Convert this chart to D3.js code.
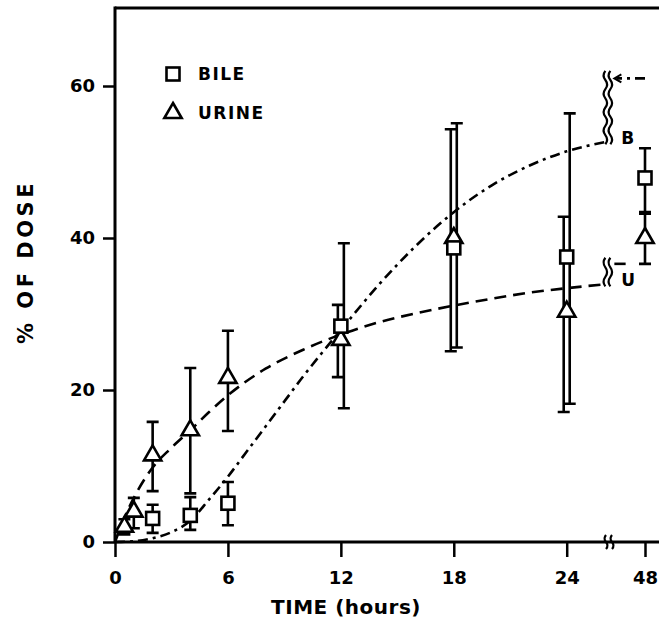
<!DOCTYPE html>
<html>
<head>
<meta charset="utf-8">
<script src="https://cdn.jsdelivr.net/npm/d3@7"></script>
<style>
  body { margin: 0; background: #fff; }
  svg { display: block; }
  text { font-family: "DejaVu Sans", sans-serif; font-weight: bold; fill: #000; }
</style>
</head>
<body>
<svg width="659" height="625"></svg>
<script>
const width = 659;
const height = 625;

// measured means and error bars, % of dose
const bile_time = [2, 4, 6, 12, 18, 24, 48];
const bile_mean = [3.1, 3.5, 5.1, 28.4, 38.7, 37.5, 47.9];
const bile_low = [1.2, 1.6, 2.2, 17.6, 25.6, 18.2, 43.4];
const bile_high = [4.9, 5.9, 7.9, 39.3, 55.1, 56.4, 51.8];

const urine_time = [0.5, 1, 2, 4, 6, 12, 18, 24, 48];
const urine_mean = [2.0, 4.0, 11.4, 14.7, 21.6, 26.6, 40.0, 30.3, 40.0];
const urine_low = [1.0, 1.8, 6.7, 6.4, 14.6, 21.7, 25.1, 17.1, 36.6];
const urine_high = [3.0, 5.8, 15.8, 22.9, 27.8, 31.2, 54.3, 42.8, 43.2];

// fitted curves
const bile_fit_time = [0, 1, 2, 3, 4, 5, 6, 7, 8, 9, 10, 11, 12, 14, 16, 18, 20, 22, 24, 26];
const bile_fit_value = [0, 0.1, 0.5, 1.3, 2.8, 5.6, 8.6, 11.9, 15.2, 18.5, 21.8, 24.9, 27.9, 33.8, 39.0, 43.4, 46.9, 49.5, 51.4, 52.6];
const urine_fit_time = [0, 0.5, 1, 2, 3, 4, 5, 6, 8, 10, 12, 14, 16, 18, 20, 22, 24, 26];
const urine_fit_value = [0, 3.2, 5.8, 9.8, 12.4, 14.7, 17.1, 19.3, 22.8, 25.3, 27.3, 28.9, 30.1, 31.1, 32.0, 32.8, 33.4, 33.9];

// plateau values shown after the axis break
const bile_tail = 61;
const urine_tail = 36.6;
const urine_tail_end = 36;

const x_ticks = [0, 6, 12, 18, 24, 48];
const y_ticks = [0, 20, 40, 60];
const break_hour = 26.3;

const margin = { top: 8, left: 115, bottom: 542 };

const x = d3.scaleLinear([0, break_hour, 48], [margin.left, 610, 645]);
const y = d3.scaleLinear([0, 60], [margin.bottom, 86]);

const svg = d3.select("svg");
const ink = "#000";

const zip = (t, m, lo, hi) => t.map((d, i) => ({ t: d, v: m[i], lo: lo[i], hi: hi[i] }));
const bile = zip(bile_time, bile_mean, bile_low, bile_high);
const urine = zip(urine_time, urine_mean, urine_low, urine_high);

// side-step error bars that overlap the other series at the same time
const overlaps = (a, list) => list.some(b => b.t === a.t && b.lo < a.hi && a.lo < b.hi);
bile.forEach(d => d.dx = overlaps(d, urine) ? 3 : 0);
urine.forEach(d => d.dx = overlaps(d, bile) ? -3 : 0);

const wavy = (x0, y0, y1, amp = 3.5) => {
  const n = Math.max(2, Math.round((y1 - y0) / 9));
  const h = (y1 - y0) / n;
  let p = `M${x0},${y0}`;
  for (let i = 0; i < n; i++) p += ` q${i % 2 ? amp : -amp},${h / 2} 0,${h}`;
  return p;
};

// frame
svg.append("line")
  .attr("x1", margin.left).attr("x2", width)
  .attr("y1", margin.top).attr("y2", margin.top)
  .attr("stroke", ink).attr("stroke-width", 3);
svg.append("line")
  .attr("x1", margin.left).attr("x2", margin.left)
  .attr("y1", margin.top - 1.5).attr("y2", margin.bottom)
  .attr("stroke", ink).attr("stroke-width", 3);
svg.append("line")
  .attr("x1", margin.left).attr("x2", width)
  .attr("y1", margin.bottom).attr("y2", margin.bottom)
  .attr("stroke", ink).attr("stroke-width", 3);

// axes
const x_axis = svg.append("g")
  .attr("transform", `translate(0,${margin.bottom})`)
  .call(d3.axisBottom(x).tickValues(x_ticks).tickSize(15).tickPadding(14).tickSizeOuter(0));
x_axis.select(".domain").remove();
x_axis.selectAll("line").attr("stroke", ink).attr("stroke-width", 2.5);
x_axis.selectAll("text").attr("font-size", 18).attr("font-family", null).attr("fill", null);

const y_axis = svg.append("g")
  .attr("transform", `translate(${margin.left},0)`)
  .call(d3.axisLeft(y).tickValues(y_ticks).tickSize(12).tickPadding(8).tickSizeOuter(0));
y_axis.select(".domain").remove();
y_axis.selectAll("line").attr("stroke", ink).attr("stroke-width", 2.5);
y_axis.selectAll("text").attr("font-size", 18).attr("font-family", null).attr("fill", null);

// x axis break mark
const xb = x(break_hour);
[xb - 4, xb + 2].forEach(xx => {
  svg.append("path").attr("d", wavy(xx, margin.bottom - 7, margin.bottom + 7, 3))
    .attr("fill", "none").attr("stroke", ink).attr("stroke-width", 2.2);
});

svg.append("text")
  .attr("x", 346).attr("y", 614)
  .attr("text-anchor", "middle")
  .attr("font-size", 20).attr("letter-spacing", 0.5)
  .text("TIME (hours)");
svg.append("text")
  .attr("transform", `translate(33,262) rotate(-90)`)
  .attr("text-anchor", "middle")
  .attr("font-size", 21).attr("letter-spacing", 3.5)
  .text("% OF DOSE");

// fitted curves
const line = d3.line().x(d => x(d[0])).y(d => y(d[1])).curve(d3.curveMonotoneX);
const bile_dash = "10,5,3,5";
const urine_dash = "12,7";

svg.append("path")
  .attr("d", line(d3.zip(bile_fit_time, bile_fit_value)))
  .attr("fill", "none").attr("stroke", ink).attr("stroke-width", 2.6)
  .attr("stroke-dasharray", bile_dash);
svg.append("path")
  .attr("d", line(d3.zip(urine_fit_time, urine_fit_value)))
  .attr("fill", "none").attr("stroke", ink).attr("stroke-width", 2.6)
  .attr("stroke-dasharray", urine_dash);

// curve breaks
const curve_end_x = x(bile_fit_time[bile_fit_time.length - 1]);
const breaks = [
  { lo: bile_fit_value[bile_fit_value.length - 1], hi: bile_tail + 1, label: "B" },
  { lo: urine_fit_value[urine_fit_value.length - 1], hi: urine_tail + 0.8, label: "U" }
];
breaks.forEach(b => {
  [curve_end_x + 1, curve_end_x + 6].forEach(xx => {
    svg.append("path").attr("d", wavy(xx, y(b.hi), y(b.lo) + 2))
      .attr("fill", "none").attr("stroke", ink).attr("stroke-width", 2.2);
  });
  svg.append("text")
    .attr("x", curve_end_x + 17).attr("y", y(b.lo) + 2)
    .attr("font-size", 17)
    .text(b.label);
});
// bile plateau after the break
svg.append("path")
  .attr("d", `M${x(48)},${y(bile_tail)} L${curve_end_x + 12},${y(bile_tail)}`)
  .attr("fill", "none").attr("stroke", ink).attr("stroke-width", 2.6)
  .attr("stroke-dasharray", bile_dash);
svg.append("path")
  .attr("d", `M${curve_end_x + 17},${y(bile_tail) - 4} L${curve_end_x + 10},${y(bile_tail)} L${curve_end_x + 17},${y(bile_tail) + 4}`)
  .attr("fill", "none").attr("stroke", ink).attr("stroke-width", 2);
// urine plateau stub
svg.append("line")
  .attr("x1", curve_end_x + 10).attr("x2", x(urine_tail_end))
  .attr("y1", y(urine_tail)).attr("y2", y(urine_tail))
  .attr("stroke", ink).attr("stroke-width", 2.6);

// error bars
const cap = 6;
const draw_bars = data => {
  const g = svg.append("g").attr("stroke", ink).attr("stroke-width", 2.6).attr("fill", "none");
  g.selectAll("path")
    .data(data)
    .join("path")
      .attr("d", d => {
        const xx = x(d.t) + d.dx;
        return `M${xx},${y(d.lo)} V${y(d.hi)} M${xx - cap},${y(d.hi)} H${xx + cap} M${xx - cap},${y(d.lo)} H${xx + cap}`;
      });
};
draw_bars(bile);
draw_bars(urine);

// markers
const sq = 6.5;
const tri = d3.symbol().type(d3.symbolTriangle).size(130);
const draw_squares = (g, data) => g.selectAll("rect")
  .data(data)
  .join("rect")
    .attr("x", d => x(d.t) - sq).attr("y", d => y(d.v) - sq)
    .attr("width", sq * 2).attr("height", sq * 2)
    .attr("fill", "#fff").attr("stroke", ink).attr("stroke-width", 2.6);
const draw_triangles = (g, data) => g.selectAll("path")
  .data(data)
  .join("path")
    .attr("d", tri)
    .attr("transform", d => `translate(${x(d.t)},${y(d.v)})`)
    .attr("fill", "#fff").attr("stroke", ink).attr("stroke-width", 2.6).attr("stroke-linejoin", "miter");

draw_triangles(svg.append("g"), urine);
draw_squares(svg.append("g"), bile);

// legend
const legend = svg.append("g").attr("transform", "translate(173,0)");
draw_squares(legend, [{ t: 0, v: 0 }]).attr("x", -sq).attr("y", 74 - sq);
draw_triangles(legend, [{ t: 0, v: 0 }]).attr("transform", "translate(0,113)");
legend.selectAll("text")
  .data(["BILE", "URINE"])
  .join("text")
    .attr("x", 25)
    .attr("y", (d, i) => 74 + i * 39)
    .attr("dy", "0.36em")
    .attr("font-size", 17).attr("letter-spacing", 1.5)
    .text(d => d);
</script>
</body>
</html>
